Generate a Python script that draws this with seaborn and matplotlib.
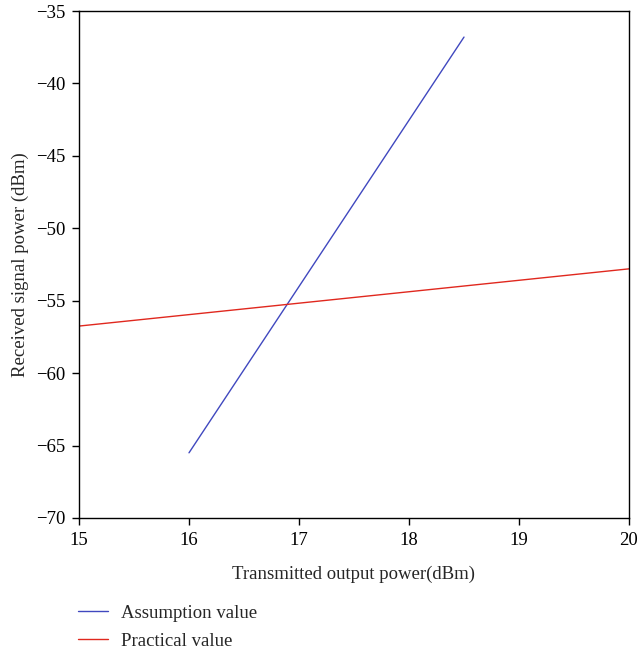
import matplotlib
matplotlib.use("Agg")
import matplotlib.pyplot as plt
import seaborn as sns
import pandas as pd

# Data
assump_x = [16.0, 18.5]
assump_y = [-65.5, -36.8]
pract_x = [15.0, 20.0]
pract_y = [-56.75, -52.8]
x_ticks = [15, 16, 17, 18, 19, 20]
y_ticks = [-70, -65, -60, -55, -50, -45, -40, -35]

sns.set_theme(style="ticks")
plt.rcParams['font.family'] = ['Liberation Serif', 'DejaVu Serif']
plt.rcParams['axes.unicode_minus'] = True

FS = 13.5
fig = plt.figure(figsize=(6.39, 6.5), dpi=100)
ax = fig.add_axes([79/639, 1-518/650, 550/639, 507/650])

df_a = pd.DataFrame({"x": assump_x, "y": assump_y})
df_p = pd.DataFrame({"x": pract_x, "y": pract_y})
sns.lineplot(data=df_a, x="x", y="y", ax=ax, color="#4048bf", linewidth=1.0, label="Assumption value")
sns.lineplot(data=df_p, x="x", y="y", ax=ax, color="#e0281e", linewidth=1.0, label="Practical value")

ax.set_xlim(15, 20)
ax.set_ylim(-70, -35)
ax.set_xticks(x_ticks)
ax.set_yticks(y_ticks)
ax.set_xticklabels([str(t) for t in x_ticks], fontsize=FS)
ax.set_yticklabels(["\u2212" + str(abs(t)) for t in y_ticks], fontsize=FS)
ax.tick_params(direction="out", length=5, width=1, colors="black", pad=5)
ax.tick_params(axis='x', top=False)
ax.tick_params(axis='y', right=False)
for s in ax.spines.values():
    s.set_linewidth(1.0)
    s.set_color("black")
ax.set_xlabel("Transmitted output power(dBm)", fontsize=FS, labelpad=12)
ax.set_ylabel("Received signal power (dBm)", fontsize=FS, labelpad=5)

ax.get_legend().remove()
handles, labels = ax.get_legend_handles_labels()
fig.legend(handles, labels, loc="upper left", bbox_to_anchor=(0.122, 0.070),
           frameon=False, fontsize=FS, handlelength=1.6, handletextpad=0.7,
           labelspacing=0.6, borderaxespad=0, borderpad=0)

fig.savefig("out.png", dpi=100)
